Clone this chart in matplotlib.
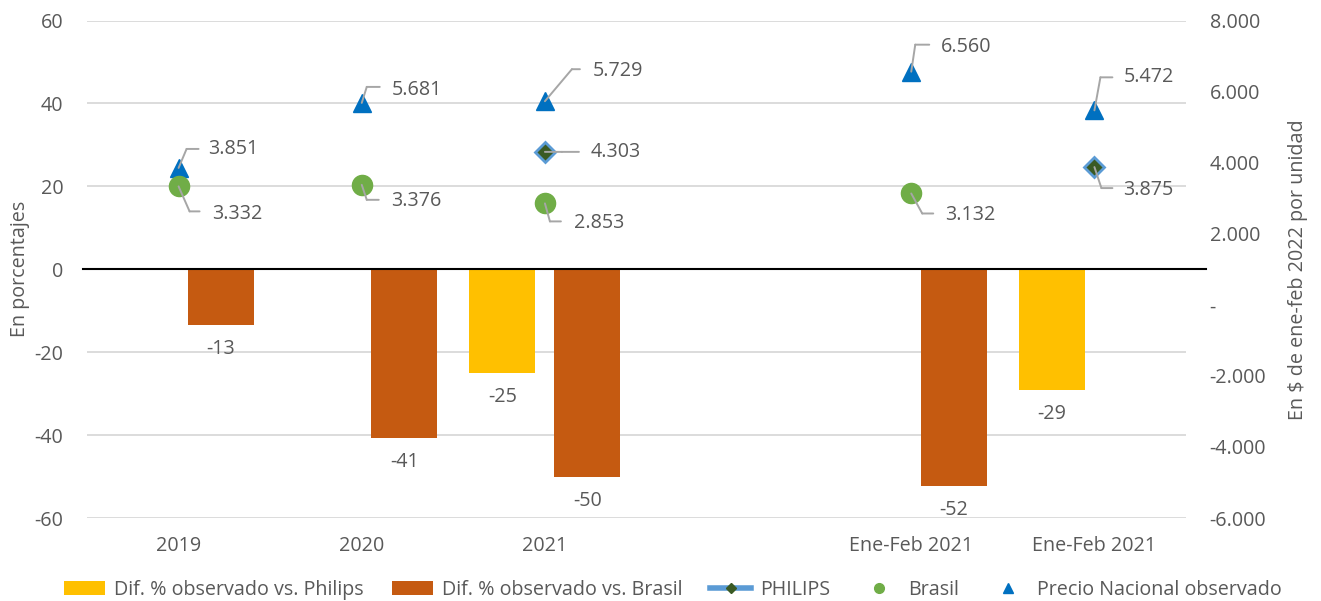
import matplotlib
matplotlib.use("Agg")
import matplotlib.pyplot as plt
import numpy as np
from matplotlib.patches import Patch
from matplotlib.lines import Line2D
from matplotlib.transforms import offset_copy

# ---------------- data ----------------
categories = ["2019", "2020", "2021", "", "Ene-Feb 2021", "Ene-Feb 2021"]
dif_philips = [None, None, -25.1, None, None, -29.2]
dif_brasil = [-13.4, -40.6, -50.1, None, -52.3, None]
philips = [None, None, 4303, None, None, 3875]
brasil = [3332, 3376, 2853, None, 3132, None]
precio_nacional = [3851, 5681, 5729, None, 6560, 5472]

left_ticks = [-60, -40, -20, 0, 20, 40, 60]
right_ticks = [-6000, -4000, -2000, 0, 2000, 4000, 6000, 8000]

# ---------------- style ----------------
FONT = "Open Sans"
TXT = "#595959"
C_YEL = "#FFC000"
C_ORA = "#C55A11"
C_BLUE = "#0070C0"
C_GREEN = "#70AD47"
C_DIA_FILL = "#3A5A24"
C_DIA_EDGE = "#5B9BD5"
C_LEAD = "#A6A6A6"
FS = 14.2

plt.rcParams["font.family"] = [FONT, "DejaVu Sans"]

fig = plt.figure(figsize=(13.21, 6.01), dpi=100)
ax = fig.add_axes([87 / 1321, 1 - 518 / 601, (1186 - 87) / 1321, (518 - 20.5) / 601])
ax2 = ax.twinx()

x = np.arange(len(categories))
bw = 0.36
off = 0.232


def arr(v):
    return np.array([np.nan if a is None else a for a in v], dtype=float)


yp = arr(dif_philips)
yb = arr(dif_brasil)
ax.bar(x - off, yp, width=bw, color=C_YEL, zorder=2)
ax.bar(x + off, yb, width=bw, color=C_ORA, zorder=2)

# bar labels
for xs, ys in ((x - off, yp), (x + off, yb)):
    for xi, yi in zip(xs, ys):
        if np.isnan(yi):
            continue
        ax.annotate(f"{yi:.0f}", xy=(xi, yi), xytext=(0, -24), textcoords="offset pixels",
                    ha="center", va="center", fontsize=FS, color=TXT)

ax.set_xlim(-0.5, len(categories) - 0.5)
ax.set_ylim(-60, 60)
ax.set_yticks(left_ticks)
ax.set_yticklabels([str(t) for t in left_ticks])
ax.set_xticks(x)
ax.set_xticklabels(categories)
ax.tick_params(axis="both", length=0, labelsize=FS, colors=TXT)
ax.tick_params(axis="y", pad=17)
ax.tick_params(axis="x", pad=13)
ax.grid(axis="y", color="#D9D9D9", lw=1.3, zorder=0)
ax.set_axisbelow(True)
for s in ax.spines.values():
    s.set_visible(False)
ax.axhline(0, xmin=-0.004, xmax=1.018, color="black", lw=1.5, clip_on=False, zorder=3)
ax.set_ylabel("En porcentajes", fontsize=FS, color=TXT, labelpad=3)

# secondary axis
ax2.set_ylim(-6000, 8000)
ax2.set_yticks(right_ticks)
ax2.set_yticklabels(["-" if t == 0 else f"{t:,.0f}".replace(",", ".") for t in right_ticks])
ax2.tick_params(axis="y", length=0, labelsize=FS, colors=TXT, pad=17)
for s in ax2.spines.values():
    s.set_visible(False)
ax2.set_ylabel("En $ de ene-feb 2022 por unidad", fontsize=FS, color=TXT, labelpad=16)

ax2.plot(x, arr(precio_nacional), ls="none", marker="^", ms=13, color=C_BLUE, zorder=4)
ax2.plot(x, arr(brasil), ls="none", marker="o", ms=14.5, color=C_GREEN, zorder=4)
ax2.plot(x, arr(philips), ls="none", marker="D", ms=10, mfc=C_DIA_FILL, mec=C_DIA_EDGE,
         mew=2, zorder=4)

# leader-line label offsets in pixels (dx right, dy down as on screen)
lead_precio = [((8, -19), (20, -19), (30, -19)), ((5, -16), (18, -16), (30, -13)),
               ((27, -32), (35, -32), (48, -30)), None,
               ((4, -27), (18, -27), (30, -25)), ((6, -33), (18, -33), (29, -33))]
lead_brasil = [((11, 25), (21, 25), (34, 28)), ((5, 15), (17, 15), (29, 16)),
               ((5, 18), (16, 18), (29, 20)), None,
               ((11, 20), (22, 20), (34, 22)), None]
lead_philips = [None, None, ((17, 0), (34, 0), (46, 0)), None, None,
                ((7, 21), (18, 21), (29, 23))]

ap = dict(arrowstyle="-", color=C_LEAD, lw=1.4, shrinkA=0, shrinkB=0)


def leader(a, xi, yi, spec, label):
    (ex, ey), (hx, hy), (tx, ty) = spec
    ey, hy, ty = -ey, -hy, -ty
    a.annotate("", xy=(xi, yi), xytext=(ex, ey), textcoords="offset pixels",
               arrowprops=ap, zorder=5)
    tr = offset_copy(a.transData, fig=fig, x=ex, y=ey, units="dots")
    a.annotate("", xy=(xi, yi), xycoords=tr, xytext=(hx - ex, hy - ey),
               textcoords="offset pixels", arrowprops=ap, zorder=5)
    a.annotate(label, xy=(xi, yi), xytext=(tx, ty), textcoords="offset pixels",
               ha="left", va="center", fontsize=FS, color=TXT, zorder=5)


for vals, specs in ((precio_nacional, lead_precio), (brasil, lead_brasil),
                    (philips, lead_philips)):
    for xi, v, sp in zip(x, vals, specs):
        if v is None or sp is None:
            continue
        leader(ax2, xi, v, sp, f"{v:,.0f}".replace(",", "."))

# legend
handles = [
    Patch(facecolor=C_YEL, label="Dif. % observado vs. Philips"),
    Patch(facecolor=C_ORA, label="Dif. % observado vs. Brasil"),
    Line2D([], [], color=C_DIA_EDGE, lw=4, marker="D", ms=5, mfc=C_DIA_FILL,
           mec=C_DIA_FILL, label="PHILIPS"),
    Line2D([], [], ls="none", marker="o", ms=7, color=C_GREEN, label="Brasil"),
    Line2D([], [], ls="none", marker="^", ms=7, color=C_BLUE,
           label="Precio Nacional observado"),
]
leg = fig.legend(handles=handles, loc="center", bbox_to_anchor=(673 / 1321, 1 - 590 / 601),
                 ncol=5, frameon=False, fontsize=FS, handlelength=2.1, handleheight=0.7,
                 columnspacing=1.4, handletextpad=0.45)
for t in leg.get_texts():
    t.set_color(TXT)

fig.savefig("out.png", dpi=100)
